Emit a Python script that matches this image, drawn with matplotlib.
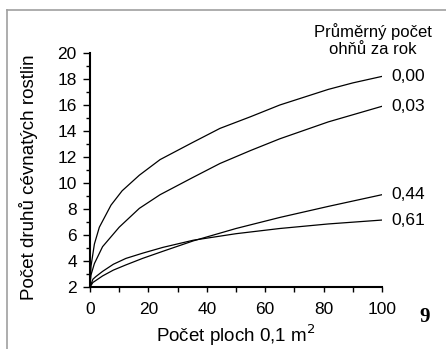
import matplotlib
matplotlib.use("Agg")
import matplotlib.pyplot as plt
from matplotlib.lines import Line2D
from matplotlib.ticker import MultipleLocator

plt.rcParams['font.family'] = ['Liberation Sans', 'DejaVu Sans']

# values (x = number of 0.1 m2 plots, y = species count)
x_000 = [0, 0.35, 1.5, 3.2, 7.2, 11, 16.9, 24, 35, 44.5, 55, 65, 81.6, 90, 100]
y_000 = [2, 3.6, 5.3, 6.6, 8.3, 9.4, 10.6, 11.8, 13.1, 14.2, 15.1, 16.0, 17.2, 17.7, 18.2]

x_003 = [0, 0.3, 1.5, 4.3, 10, 16.9, 24, 35, 44.5, 55, 65, 81.6, 100]
y_003 = [2, 2.9, 3.8, 5.1, 6.6, 8.05, 9.1, 10.4, 11.5, 12.5, 13.4, 14.7, 15.9]

x_044 = [0, 1, 2, 4.3, 8, 12.3, 18, 25, 35.4, 50, 65, 81.6, 100]
y_044 = [2, 2.35, 2.5, 2.85, 3.3, 3.7, 4.2, 4.75, 5.55, 6.5, 7.35, 8.2, 9.1]

x_061 = [0, 1, 2, 4.3, 8, 12.3, 18, 25, 35.4, 50, 65, 81.6, 100]
y_061 = [2, 2.6, 2.8, 3.2, 3.75, 4.2, 4.6, 5.05, 5.6, 6.1, 6.5, 6.85, 7.15]

series = [
    ("0,00", x_000, y_000),
    ("0,03", x_003, y_003),
    ("0,44", x_044, y_044),
    ("0,61", x_061, y_061),
]

fig = plt.figure(figsize=(4.46, 3.49), dpi=100)
ax = fig.add_axes([90 / 446, 1 - 287 / 349, 292 / 446, 234 / 349])

for lab, xs, ys in series:
    ax.plot(xs, ys, color='black', lw=0.9, solid_joinstyle='round')
    ax.annotate(lab, xy=(xs[-1], ys[-1]), xytext=(6.5, 0), textcoords='offset points',
                ha='left', va='center', fontsize=12.5)

ax.set_xlim(0, 100)
ax.set_ylim(2, 20)
ax.xaxis.set_major_locator(MultipleLocator(20))
ax.xaxis.set_minor_locator(MultipleLocator(10))
ax.yaxis.set_major_locator(MultipleLocator(2))
ax.yaxis.set_minor_locator(MultipleLocator(1))

for s in ['top', 'right']:
    ax.spines[s].set_visible(False)
for s in ['left', 'bottom']:
    ax.spines[s].set_linewidth(1.5)

ax.tick_params(axis='x', which='both', direction='out', length=3.5, width=1, pad=7, labelsize=12.5)
ax.tick_params(axis='y', which='major', direction='out', length=5, width=1, pad=4.5, labelsize=12.5)
ax.tick_params(axis='y', which='minor', direction='out', length=3, width=1)

ax.set_xlabel('Počet ploch 0,1 m$^2$', fontsize=13.5)
ax.set_ylabel('Počet druhů cévnatých rostlin', fontsize=13.5)
ax.xaxis.set_label_coords(0.5, -(323 - 287) / 234)
ax.yaxis.set_label_coords(-(90 - 38) / 292, 0.47)

fig.text(373 / 446, 1 - 40 / 349, 'Průměrný počet\nohňů za rok', ha='center', va='center',
         fontsize=12, linespacing=1.2)
fig.text(425 / 446, 1 - 317 / 349, '9', ha='center', va='center', fontsize=15,
         fontweight='bold', family=['Liberation Serif', 'DejaVu Serif'])

# grey frame (left and top edges)
fig.add_artist(Line2D([6.5 / 446, 6.5 / 446], [0, 1 - 9.5 / 349], color='#a0a0a0', lw=1.2,
                      transform=fig.transFigure))
fig.add_artist(Line2D([6.5 / 446, 1], [1 - 9.5 / 349, 1 - 9.5 / 349], color='#a0a0a0', lw=1.2,
                      transform=fig.transFigure))

fig.savefig('out.png', dpi=100)
